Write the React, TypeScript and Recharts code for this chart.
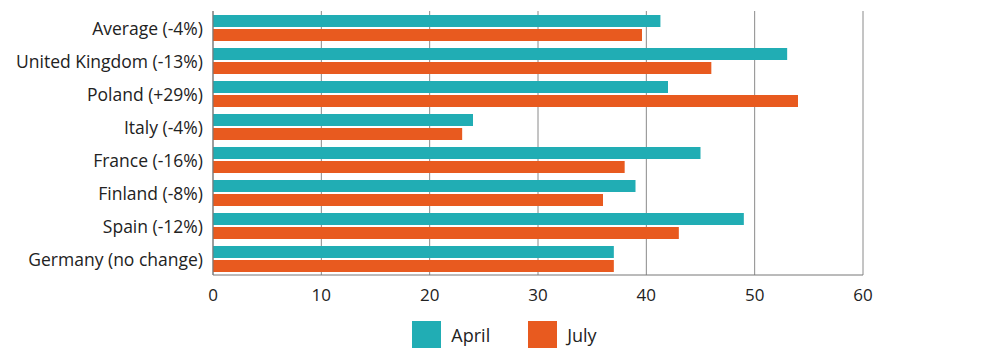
import { BarChart, Bar, XAxis, YAxis, CartesianGrid, Legend } from "recharts";

const categories = [
  "Average (-4%)",
  "United Kingdom (-13%)",
  "Poland (+29%)",
  "Italy (-4%)",
  "France (-16%)",
  "Finland (-8%)",
  "Spain (-12%)",
  "Germany (no change)",
];
const april = [41.3, 53, 42, 24, 45, 39, 49, 37];
const july = [39.6, 46, 54, 23, 38, 36, 43, 37];
const xTicks = [0, 10, 20, 30, 40, 50, 60];

const TEAL = "#21adb4";
const ORANGE = "#e85a1f";
const FONT = "'Open Sans', sans-serif";

const data = categories.map((name, i) => ({ name, april: april[i], july: july[i] }));

const LegendBox = () => (
  <div style={{ display: "flex", justifyContent: "center", alignItems: "center", paddingLeft: 146, paddingTop: 16, fontFamily: FONT, fontSize: 18, color: "#222" }}>
    <span style={{ width: 29, height: 27, background: TEAL, display: "inline-block", marginRight: 10 }} />
    <span style={{ marginRight: 38 }}>April</span>
    <span style={{ width: 29, height: 27, background: ORANGE, display: "inline-block", marginRight: 10 }} />
    <span>July</span>
  </div>
);

export default function App() {
  return (
    <div style={{ position: "absolute", left: 0, top: 0, background: "#fff" }}>
      <BarChart
        width={1004}
        height={353}
        data={data}
        layout="vertical"
        margin={{ top: 11, right: 141, left: 0, bottom: 0 }}
        barSize={12}
        barGap={2}
      >
        <CartesianGrid horizontal={false} stroke="#8a8a8a" />
        <XAxis
          type="number"
          domain={[0, 60]}
          ticks={xTicks}
          axisLine={{ stroke: "#777" }}
          tickLine={false}
          tickMargin={8}
          height={30}
          tick={{ fill: "#222", fontSize: 17, fontFamily: FONT }}
        />
        <YAxis
          type="category"
          dataKey="name"
          width={213}
          axisLine={{ stroke: "#777" }}
          tickLine={false}
          tickMargin={4}
          interval={0}
          tick={{ fill: "#222", fontSize: 17.5, fontFamily: FONT, dy: 1 }}
        />
        <Legend verticalAlign="bottom" height={48} content={<LegendBox />} />
        <Bar dataKey="april" fill={TEAL} isAnimationActive={false} />
        <Bar dataKey="july" fill={ORANGE} isAnimationActive={false} />
      </BarChart>
    </div>
  );
}
